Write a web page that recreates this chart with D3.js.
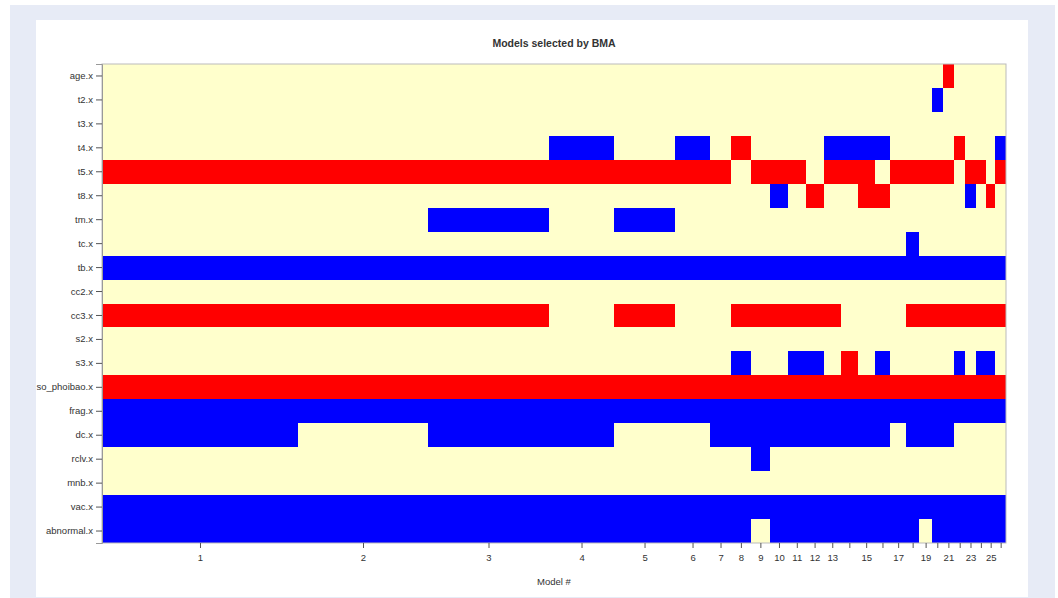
<!DOCTYPE html>
<html>
<head>
<meta charset="utf-8">
<title>Models selected by BMA</title>
<script src="https://cdn.jsdelivr.net/npm/d3@7"></script>
<style>
  body { margin: 0; background: #fff; }
  text { font-family: "Liberation Sans", Arial, sans-serif; fill: #333; }
</style>
</head>
<body>
<div id="home"></div>
<script>
// variables, top to bottom
const vars = ["age.x", "t2.x", "t3.x", "t4.x", "t5.x", "t8.x", "tm.x", "tc.x", "tb.x", "cc2.x",
              "cc3.x", "s2.x", "s3.x", "so_phoibao.x", "frag.x", "dc.x", "rclv.x", "mnb.x", "vac.x", "abnormal.x"];

// posterior probability of models 1..26 (column widths)
const postprob = [0.1670, 0.1108, 0.1031, 0.0554, 0.0520, 0.0298, 0.0179, 0.0168, 0.0164, 0.0153,
                  0.0151, 0.0152, 0.0149, 0.0142, 0.0145, 0.0133, 0.0134, 0.0113, 0.0108, 0.0091,
                  0.0098, 0.0095, 0.0089, 0.0088, 0.0079, 0.0091];

// sign of coefficient per model: 1 positive (red), -1 negative (blue), 0 not in model
const signs = [
  [0,0,0,0,0,0,0,0,0,0,0,0,0,0,0,0,0,0,0,0,1,0,0,0,0,0],          // age.x
  [0,0,0,0,0,0,0,0,0,0,0,0,0,0,0,0,0,0,0,-1,0,0,0,0,0,0],         // t2.x
  [0,0,0,0,0,0,0,0,0,0,0,0,0,0,0,0,0,0,0,0,0,0,0,0,0,0],          // t3.x
  [0,0,0,-1,0,-1,0,1,0,0,0,0,-1,-1,-1,-1,0,0,0,0,0,1,0,0,0,-1],   // t4.x
  [1,1,1,1,1,1,1,0,1,1,1,0,1,1,1,0,1,1,1,1,1,0,1,1,0,1],          // t5.x
  [0,0,0,0,0,0,0,0,0,-1,0,1,0,0,1,1,0,0,0,0,0,0,-1,0,1,0],        // t8.x
  [0,0,-1,0,-1,0,0,0,0,0,0,0,0,0,0,0,0,0,0,0,0,0,0,0,0,0],        // tm.x
  [0,0,0,0,0,0,0,0,0,0,0,0,0,0,0,0,0,-1,0,0,0,0,0,0,0,0],         // tc.x
  [-1,-1,-1,-1,-1,-1,-1,-1,-1,-1,-1,-1,-1,-1,-1,-1,-1,-1,-1,-1,-1,-1,-1,-1,-1,-1], // tb.x
  [0,0,0,0,0,0,0,0,0,0,0,0,0,0,0,0,0,0,0,0,0,0,0,0,0,0],          // cc2.x
  [1,1,1,0,1,0,0,1,1,1,1,1,1,0,0,0,0,1,1,1,1,1,1,1,1,1],          // cc3.x
  [0,0,0,0,0,0,0,0,0,0,0,0,0,0,0,0,0,0,0,0,0,0,0,0,0,0],          // s2.x
  [0,0,0,0,0,0,0,-1,0,0,-1,-1,0,1,0,-1,0,0,0,0,0,-1,0,-1,-1,0],   // s3.x
  [1,1,1,1,1,1,1,1,1,1,1,1,1,1,1,1,1,1,1,1,1,1,1,1,1,1],          // so_phoibao.x
  [-1,-1,-1,-1,-1,-1,-1,-1,-1,-1,-1,-1,-1,-1,-1,-1,-1,-1,-1,-1,-1,-1,-1,-1,-1,-1], // frag.x
  [-1,0,-1,-1,0,0,-1,-1,-1,-1,-1,-1,-1,-1,-1,-1,0,-1,-1,-1,-1,0,0,0,0,0], // dc.x
  [0,0,0,0,0,0,0,0,-1,0,0,0,0,0,0,0,0,0,0,0,0,0,0,0,0,0],         // rclv.x
  [0,0,0,0,0,0,0,0,0,0,0,0,0,0,0,0,0,0,0,0,0,0,0,0,0,0],          // mnb.x
  [-1,-1,-1,-1,-1,-1,-1,-1,-1,-1,-1,-1,-1,-1,-1,-1,-1,-1,-1,-1,-1,-1,-1,-1,-1,-1], // vac.x
  [-1,-1,-1,-1,-1,-1,-1,-1,0,-1,-1,-1,-1,-1,-1,-1,-1,-1,0,-1,-1,-1,-1,-1,-1,-1]    // abnormal.x
];

// model numbers that get a printed label on the x axis
const xLabels = [1, 2, 3, 4, 5, 6, 7, 8, 9, 10, 11, 12, 13, 15, 17, 19, 21, 23, 25];

const W = 1058, H = 598;
const plotL = 102, plotR = 1006, plotT = 64, plotB = 543;

const svg = d3.select("#home").append("svg")
    .attr("width", W)
    .attr("height", H);

// frame like the page it came from
svg.append("rect").attr("x", 10).attr("y", 5).attr("width", 1045).attr("height", 600).attr("fill", "#e7ebf6");
svg.append("rect").attr("x", 36).attr("y", 20).attr("width", 992).attr("height", 577).attr("fill", "#ffffff");

// cumulative positions of the model columns
const edges = [0];
postprob.forEach(p => edges.push(edges[edges.length - 1] + p));
const models = postprob.map((p, i) => ({ id: i + 1, x0: edges[i], x1: edges[i + 1] }));

const x = d3.scaleLinear()
    .domain([0, edges[edges.length - 1]])
    .range([plotL, plotR]);

const y = d3.scaleBand()
    .domain(vars)
    .range([plotT, plotB]);

const color = s => s > 0 ? "#ff0000" : s < 0 ? "#0000ff" : "#ffffcc";

const cells = [];
vars.forEach((v, r) => {
  models.forEach((m, c) => cells.push({ v: v, m: m, s: signs[r][c] }));
});

svg.append("g")
   .selectAll("rect")
   .data(cells)
   .enter()
   .append("rect")
   .attr("x", d => x(d.m.x0))
   .attr("y", d => y(d.v))
   .attr("width", d => x(d.m.x1) - x(d.m.x0) + 0.3)
   .attr("height", y.bandwidth() + 0.3)
   .attr("fill", d => color(d.s))
   .attr("shape-rendering", "crispEdges");

// box round the plot
svg.append("rect")
   .attr("x", plotL).attr("y", plotT)
   .attr("width", plotR - plotL).attr("height", plotB - plotT)
   .attr("fill", "none")
   .attr("stroke", "#bbb")
   .attr("stroke-width", 1);

// y axis
const yAxis = d3.axisLeft(y).tickSize(6).tickPadding(3);
const gy = svg.append("g")
   .attr("transform", `translate(${plotL},0)`)
   .call(yAxis);
gy.select(".domain").attr("stroke", "#999");
gy.selectAll(".tick line").attr("stroke", "#555");
gy.selectAll("text").style("font-size", "9.5px").attr("fill", "#333");

// x axis: a tick for every model at its centre
const xAxis = d3.axisBottom(x)
    .tickValues(models.map(m => (m.x0 + m.x1) / 2))
    .tickSize(5)
    .tickPadding(6)
    .tickFormat((d, i) => xLabels.includes(i + 1) ? String(i + 1) : "");
const gx = svg.append("g")
   .attr("transform", `translate(0,${plotB})`)
   .call(xAxis);
gx.select(".domain").remove();
gx.selectAll(".tick line").attr("stroke", "#555");
gx.selectAll("text").style("font-size", "9.5px").attr("fill", "#333");

svg.append("text")
   .attr("x", (plotL + plotR) / 2)
   .attr("y", 585)
   .attr("text-anchor", "middle")
   .style("font-size", "9.5px")
   .text("Model #");

svg.append("text")
   .attr("x", (plotL + plotR) / 2)
   .attr("y", 47)
   .attr("text-anchor", "middle")
   .style("font-size", "10.5px")
   .style("font-weight", "bold")
   .attr("fill", "#111")
   .text("Models selected by BMA");
</script>
</body>
</html>
